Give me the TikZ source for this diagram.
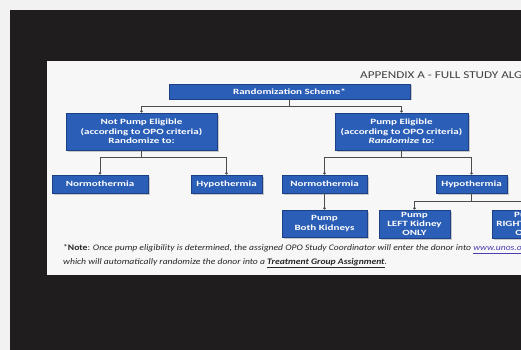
\documentclass[tikz,border=0pt]{standalone}
\usepackage{xcolor}
\usepackage{fontspec}
\usepackage{tikz}
\usetikzlibrary{positioning,arrows.meta,shadows}
\setmainfont{Carlito}
\newfontfamily\boxfont[FakeStretch=1.38]{Carlito}
\newfontfamily\notefont[FakeStretch=1.13]{Carlito}
\newfontfamily\titlefont[FakeStretch=1.25]{Carlito}
\definecolor{boxblue}{HTML}{2B5EB6}
\definecolor{boxedge}{HTML}{1C3F85}
\definecolor{screen}{HTML}{1F1D1E}
\definecolor{linkblue}{HTML}{4A3FB0}

\begin{document}
\begin{tikzpicture}[x=1pt, y=-1pt,
				bluebox/.style={rectangle, draw=boxedge, fill=boxblue, thick, text=white, align=center,
					font=\boxfont\fontsize{8}{9.5}\selectfont\bfseries, inner sep=1pt,
					drop shadow={shadow xshift=1.5pt, shadow yshift=-1.5pt, fill=black!40}},
				tightbox/.style={bluebox, font=\boxfont\fontsize{8}{8.6}\selectfont\bfseries},
				link/.style={draw=black!70, line width=0.6pt, -{Circle[length=2.6pt]}},
				]
				\useasboundingbox (0,0) rectangle (521,350);
				\clip (0,0) rectangle (521,350);
				%Screen
				\fill[black!5] (0,0) rectangle (521,350);
				\fill[screen] (10,10) rectangle (521,350);
				\fill[black!3] (47,61) rectangle (521,275);
				\node[anchor=base west, text=black!75, font=\titlefont\fontsize{10.5}{12}\selectfont, inner sep=0pt](title) at (360,79)
					{APPENDIX A - FULL STUDY ALGORITHM};
				
				%Nodes
				\node[bluebox, minimum width=241, minimum height=15](scheme) at (289.5,91.5){Randomization Scheme*};
				\node[bluebox, minimum width=151, minimum height=37](notpump) at (141.5,131.5)
					{Not Pump Eligible\\(according to OPO criteria)\\Randomize to:};
				\node[bluebox, minimum width=133, minimum height=37](pump) at (401.5,131.5)
					{Pump Eligible\\(according to OPO criteria)\\\textit{Randomize to:}};
				\node[bluebox, minimum width=96, minimum height=18](normoA) at (100,184){Normothermia};
				\node[bluebox, minimum width=71, minimum height=18](hypoA) at (226.5,184){Hypothermia};
				\node[bluebox, minimum width=85, minimum height=18](normoB) at (324.5,184){Normothermia};
				\node[bluebox, minimum width=71, minimum height=18](hypoB) at (471.5,184){Hypothermia};
				\node[bluebox, minimum width=85, minimum height=27](both) at (324.5,223.5){Pump\\Both Kidneys};
				\node[tightbox, minimum width=71, minimum height=28](leftk) at (414.5,224){Pump\\LEFT Kidney\\ONLY};
				\node[tightbox, minimum width=71, minimum height=28](rightk) at (527.5,224){Pump\\RIGHT Kidney\\ONLY};
				
				%Lines
				\draw[link] (scheme.south) -- ++(0,7) -| (notpump.north);
				\draw[link] (scheme.south) -- ++(0,7) -| (pump.north);
				\draw[link] (notpump.south) -- ++(0,7) -| (normoA.north);
				\draw[link] (notpump.south) -- ++(0,7) -| (hypoA.north);
				\draw[link] (pump.south) -- ++(0,7) -| (normoB.north);
				\draw[link] (pump.south) -- ++(0,7) -| (hypoB.north);
				\draw[link] (normoB.south) -- (both.north);
				\draw[link] (hypoB.south) -- ++(0,8) -| (leftk.north);
				\draw[link] (hypoB.south) -- ++(0,8) -| (rightk.north);
				
				%Note
				\node[anchor=base west, align=left, text=black!85, inner sep=0pt,
					font=\notefont\fontsize{8.5}{14}\selectfont](note) at (63,264)
					{*\textbf{Note}: \textit{Once pump eligibility is determined, the assigned OPO Study Coordinator will enter the donor into \textcolor{linkblue}{\underline{www.unos.org}}}\\
					\textit{which will automatically randomize the donor into a \textbf{\underline{Treatment Group Assignment}}.}};
			\end{tikzpicture}
\end{document}
